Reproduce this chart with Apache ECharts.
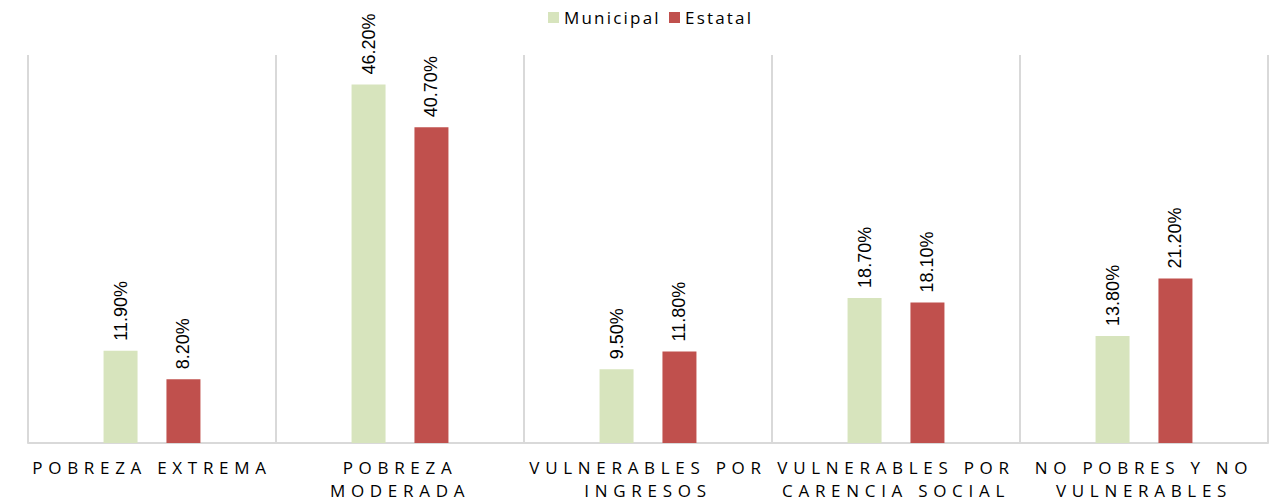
<!DOCTYPE html>
<html>
<head>
<meta charset="utf-8">
<script src="https://cdn.jsdelivr.net/npm/echarts@6/dist/echarts.min.js"></script>
<style>
  html, body { margin: 0; padding: 0; background: #fff; }
  #chart { width: 1284px; height: 503px; }
  #chart text.spaced { letter-spacing: 5.7px; }
  #chart text.legendSpaced { letter-spacing: 2.2px; }
</style>
</head>
<body>
<div id="chart"></div>
<script>
// Poverty indicators, municipal vs state level (percent of population)
const categories = [
  'POBREZA EXTREMA',
  'POBREZA\nMODERADA',
  'VULNERABLES POR\nINGRESOS',
  'VULNERABLES POR\nCARENCIA SOCIAL',
  'NO POBRES Y NO\nVULNERABLES'
];
const municipal = [11.9, 46.2, 9.5, 18.7, 13.8];
const estatal = [8.2, 40.7, 11.8, 18.1, 21.2];

const chart = echarts.init(document.getElementById('chart'), null, { renderer: 'svg' });

const valueLabel = {
  show: true,
  position: 'top',
  rotate: 90,
  align: 'left',
  verticalAlign: 'middle',
  distance: 10,
  fontFamily: "'Liberation Sans', Arial, sans-serif",
  fontSize: 18,
  color: '#000',
  formatter: p => p.value.toFixed(2) + '%'
};

chart.setOption({
  animation: false,
  legend: {
    top: 4,
    left: 543,
    itemWidth: 11,
    itemHeight: 11,
    itemGap: 28,
    icon: 'rect',
    textStyle: { fontFamily: "'Open Sans', 'DejaVu Sans', sans-serif", fontSize: 17, color: '#000' },
    data: ['Municipal', 'Estatal']
  },
  grid: { left: 28, right: 16, top: 55, bottom: 60, containLabel: false, outerBoundsMode: 'none' },
  xAxis: {
    type: 'category',
    data: categories,
    axisTick: { show: false },
    axisLine: { show: true, lineStyle: { color: '#d9d9d9', width: 2 } },
    splitLine: { show: true, lineStyle: { color: '#d9d9d9', width: 2 } },
    axisLabel: {
      interval: 0,
      margin: 13,
      fontFamily: "'Open Sans', 'DejaVu Sans', sans-serif",
      fontSize: 17,
      lineHeight: 23,
      color: '#000'
    }
  },
  yAxis: {
    type: 'value',
    min: 0,
    max: 50,
    show: false,
    splitLine: { show: false }
  },
  series: [
    {
      name: 'Municipal',
      type: 'bar',
      data: municipal,
      barWidth: 34,
      barGap: '85%',
      itemStyle: { color: '#D7E4BD' },
      label: valueLabel
    },
    {
      name: 'Estatal',
      type: 'bar',
      data: estatal,
      barWidth: 34,
      itemStyle: { color: '#C0504D' },
      label: valueLabel
    }
  ]
});

// Widen the tracking of the category captions and legend text
const words = new Set(categories.flatMap(c => c.split('\n')));
document.querySelectorAll('#chart text').forEach(t => {
  const s = t.textContent.trim();
  if (words.has(s)) t.classList.add('spaced');
  if (s === 'Municipal' || s === 'Estatal') t.classList.add('legendSpaced');
});
document.querySelectorAll('#chart tspan').forEach(t => {
  if (words.has(t.textContent.trim())) t.parentNode.classList.add('spaced');
});
</script>
</body>
</html>
